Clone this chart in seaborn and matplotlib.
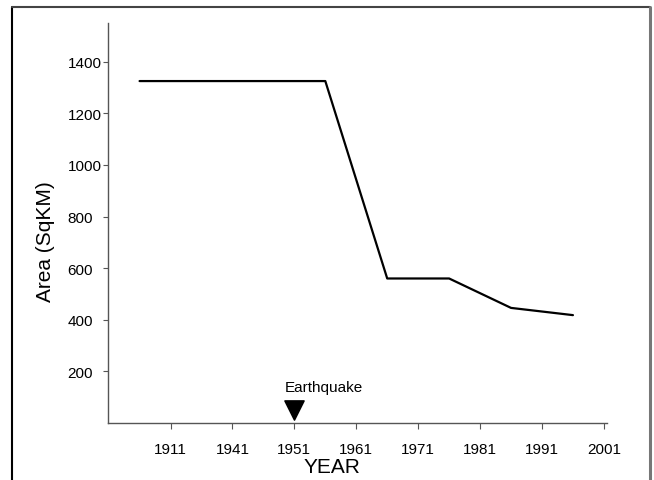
import numpy as np
import pandas as pd
import matplotlib
matplotlib.use("Agg")
import matplotlib.pyplot as plt
from matplotlib.lines import Line2D
import seaborn as sns

# tick labels on the x axis (equally spaced slots)
year_labels = ["1911", "1941", "1951", "1961", "1971", "1981", "1991", "2001"]
# line vertices, given in slot units of the axis above
slot_pos = [-0.5, 2.5, 3.5, 4.5, 5.5, 6.5]
area_sqkm = [1325, 1325, 560, 560, 446, 418]
# earthquake marker
quake_slot = 2
quake_y = 50

sns.set_style("white", {"text.color": "black", "axes.labelcolor": "black",
                        "xtick.color": "black", "ytick.color": "black"})
plt.rcParams["font.family"] = ["Liberation Sans", "DejaVu Sans"]

fig = plt.figure(figsize=(6.54, 4.81), dpi=100)
ax = fig.add_axes([108 / 654, 57 / 481, 499 / 654, 400 / 481])

df = pd.DataFrame({"slot": slot_pos, "area": area_sqkm})
sns.lineplot(data=df, x="slot", y="area", color="black", linewidth=1.6, ax=ax)
sns.scatterplot(x=[quake_slot], y=[quake_y], marker="v", s=190, color="black",
                edgecolor="black", ax=ax, zorder=3)
ax.text(quake_slot + 0.48, 140, "Earthquake", ha="center", va="center", fontsize=11)

ax.set_xlim(-1.01, 7.05)
ax.set_ylim(0, 1550)
ax.set_xticks(np.arange(len(year_labels)))
ax.set_xticklabels(year_labels)
ax.set_yticks([200, 400, 600, 800, 1000, 1200, 1400])

ax.tick_params(axis="x", direction="out", length=4.5, width=0.8, color="#555555",
               labelcolor="black", pad=9, labelsize=11, bottom=True)
ax.tick_params(axis="y", direction="out", length=3.6, width=0.8, color="#555555",
               labelcolor="black", pad=25.5, labelsize=11, left=True)
for lab in ax.get_yticklabels():
    lab.set_horizontalalignment("left")

for side in ["top", "right"]:
    ax.spines[side].set_visible(False)
for side in ["left", "bottom"]:
    ax.spines[side].set_color("#555555")
    ax.spines[side].set_linewidth(1.0)

ax.set_xlabel("YEAR", fontsize=15, color="black")
ax.set_ylabel("Area (SqKM)", fontsize=15, color="black")
ax.xaxis.set_label_coords((332 - 108) / 499, -34 / 400)
ax.yaxis.set_label_coords(-(108 - 55) / 499, (424 - 242) / 400)

# outer frame of the picture
fig.add_artist(Line2D([12 / 654, 12 / 654], [0, 1 - 8 / 481], transform=fig.transFigure,
                      color="black", linewidth=1.5))
fig.add_artist(Line2D([12 / 654, 650 / 654], [1 - 8 / 481, 1 - 8 / 481],
                      transform=fig.transFigure, color="#444444", linewidth=1.5))
fig.add_artist(Line2D([650 / 654, 650 / 654], [0, 1 - 8 / 481], transform=fig.transFigure,
                      color="#777777", linewidth=2.2))

ax.set_facecolor("white")
fig.savefig("out.png", dpi=100)
